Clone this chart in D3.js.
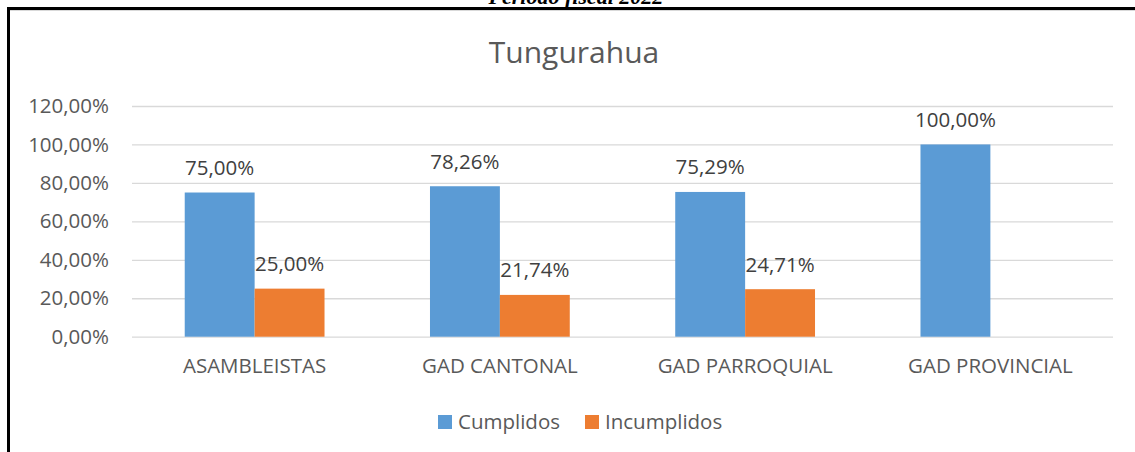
<!DOCTYPE html>
<html><head><meta charset="utf-8">
<script src="https://cdn.jsdelivr.net/npm/d3@7"></script>
<style>body{margin:0;background:#fff;}svg{display:block;}</style>
</head><body>
<svg id="c" width="1135" height="452"></svg>
<script>
const categories = ["ASAMBLEISTAS", "GAD CANTONAL", "GAD PARROQUIAL", "GAD PROVINCIAL"];
const seriesNames = ["Cumplidos", "Incumplidos"];
const cumplidos = [75.00, 78.26, 75.29, 100.00];
const incumplidos = [25.00, 21.74, 24.71, null];
const yTicks = [0, 20, 40, 60, 80, 100, 120];
const colors = ["#5B9BD5", "#ED7D31"];
const fmt = v => v.toFixed(2).replace(".", ",") + "%";

const svg = d3.select("#c");
const font = "'Open Sans', sans-serif";
const textCol = "#595959";

// top caption (cut off by the page edge, as in the source)
svg.append("text").attr("x", 576).attr("y", 4).attr("text-anchor", "middle")
  .attr("font-family", "'Liberation Serif', serif").attr("font-weight", "bold")
  .attr("font-style", "italic").attr("font-size", 22).attr("fill", "#000")
  .text("Período fiscal 2022");

// frame
svg.append("line").attr("x1", 7).attr("x2", 1135).attr("y1", 10.5).attr("y2", 10.5)
  .attr("stroke", "#d9d9d9").attr("stroke-width", 1);
svg.append("line").attr("x1", 7).attr("x2", 1135).attr("y1", 8.5).attr("y2", 8.5)
  .attr("stroke", "#000").attr("stroke-width", 3);
svg.append("line").attr("x1", 8.5).attr("x2", 8.5).attr("y1", 7).attr("y2", 452)
  .attr("stroke", "#000").attr("stroke-width", 3);

const x0 = d3.scaleBand().domain(categories).range([132, 1113]).paddingInner(0.43).paddingOuter(0.215);
const x1 = d3.scaleBand().domain(seriesNames).range([0, x0.bandwidth()]);
const y = d3.scaleLinear().domain([0, 120]).range([336.7, 106]);

// title
svg.append("text").attr("x", 574).attr("y", 63).attr("text-anchor", "middle")
  .attr("font-family", font).attr("font-size", 30).attr("fill", textCol).text("Tungurahua");

// gridlines + y labels
const yAxis = d3.axisLeft(y).tickValues(yTicks).tickFormat(fmt).tickSize(-(1113 - 132)).tickPadding(23);
const gy = svg.append("g").attr("transform", "translate(132,0)").call(yAxis);
gy.select(".domain").remove();
gy.selectAll(".tick line").attr("stroke", "#d9d9d9").attr("stroke-width", 1.3);
gy.selectAll(".tick text").attr("font-family", font).attr("font-size", 20.5).attr("fill", textCol);

// x axis labels
const xAxis = d3.axisBottom(x0).tickSize(0).tickPadding(22);
const gx = svg.append("g").attr("transform", "translate(0,336.7)").call(xAxis);
gx.select(".domain").remove();
gx.selectAll(".tick text").attr("font-family", font).attr("font-size", 20.5).attr("fill", textCol);

// bars
const series = [cumplidos, incumplidos];
series.forEach((vals, si) => {
  const g = svg.append("g");
  const data = categories.map((c, i) => ({c, v: vals[i]})).filter(d => d.v != null);
  g.selectAll("rect").data(data).enter().append("rect")
    .attr("x", d => x0(d.c) + x1(seriesNames[si]))
    .attr("width", x1.bandwidth())
    .attr("y", d => y(d.v))
    .attr("height", d => y(0) - y(d.v))
    .attr("fill", colors[si]);
  g.selectAll("text").data(data).enter().append("text")
    .attr("x", d => x0(d.c) + x1(seriesNames[si]) + x1.bandwidth() / 2)
    .attr("y", d => y(d.v) - 17.5)
    .attr("text-anchor", "middle")
    .attr("font-family", font).attr("font-size", 20.5).attr("fill", "#404040")
    .text(d => fmt(d.v));
});

// legend
const legX = [438, 585];
seriesNames.forEach((n, i) => {
  svg.append("rect").attr("x", legX[i]).attr("y", 415).attr("width", 14).attr("height", 14).attr("fill", colors[i]);
  svg.append("text").attr("x", legX[i] + 20).attr("y", 429)
    .attr("font-family", font).attr("font-size", 20.5).attr("fill", textCol).text(n);
});
</script>
</body></html>
